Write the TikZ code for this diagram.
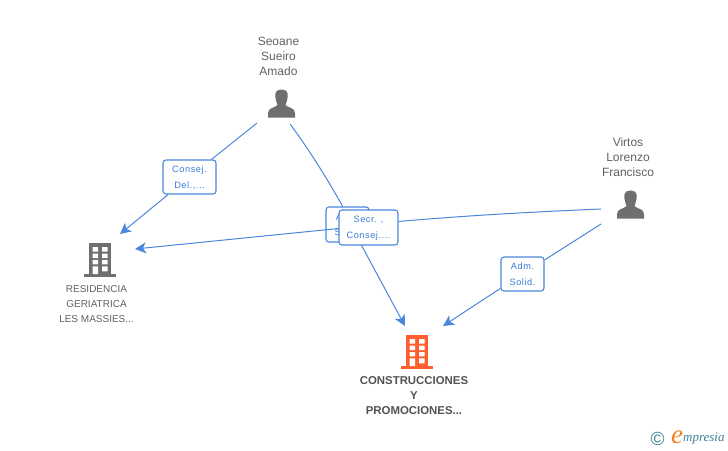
\documentclass[tikz,border=0pt]{standalone}
\usepackage{fontspec}
\setmainfont{Liberation Sans}
\newfontfamily\boxfont[LetterSpace=6]{Liberation Sans}
\newfontfamily\logofont{Liberation Serif}
\usetikzlibrary{arrows.meta}
\definecolor{linkblue}{HTML}{4A86DC}
\definecolor{boxtext}{HTML}{3C7CD8}
\definecolor{greyicon}{HTML}{6F6F6F}
\definecolor{orangeicon}{HTML}{FF5F2E}
\definecolor{teallogo}{HTML}{3F7F96}
\definecolor{orangelogo}{HTML}{F58220}
\pgfdeclarelayer{lines}
\pgfsetlayers{lines,main}
\tikzset{
  x=1pt,y=-1pt,
  link/.style={draw=linkblue,line width=1pt},
  arrowed/.style={link,-{Stealth[length=11pt,width=11pt,inset=3pt]}},
  rolebox/.style={draw=linkblue,line width=1.1pt,fill=white,rounded corners=3pt,
    inner sep=0pt,align=center,text=boxtext,text depth=0pt,
    font=\boxfont\fontsize{9.2}{15.5}\selectfont},
  personlabel/.style={align=center,text=black!62,inner sep=0pt,
    font=\fontsize{12}{15}\selectfont},
  firmlabel/.style={align=center,text=black!62,inner sep=0pt,
    font=\fontsize{10}{15}\selectfont},
  mainlabel/.style={align=center,text=black!68,inner sep=0pt,
    font=\bfseries\fontsize{11.4}{15}\selectfont},
  person/.pic={
    \fill[greyicon] (281.5,89.5) .. controls (276,89.5) and (274.5,93) .. (275.5,98)
      .. controls (276,101.5) and (277,103) .. (277.5,105)
      .. controls (275,108) and (268,107.5) .. (268,113) -- (268,117.5) -- (295,117.5) -- (295,113)
      .. controls (295,107.5) and (288,108) .. (285.5,105)
      .. controls (286,103) and (287,101.5) .. (287.5,98)
      .. controls (288.5,93) and (287,89.5) .. (281.5,89.5) -- cycle;
  },
  pics/building/.style={code={
    \fill[#1] (406,335) rectangle (428,367);
    \fill[#1] (401,366) rectangle (433,369);
    \fill[white] (409.5,339) rectangle (415,343.5)
      (419,339) rectangle (424.7,343.5)
      (409.5,345.7) rectangle (415,350)
      (419,345.7) rectangle (424.7,350)
      (409.5,352) rectangle (415,356.3)
      (419,352) rectangle (424.7,356.3)
      (409.5,358.3) rectangle (415,366)
      (419,358.3) rectangle (424.7,363.3);
  }}
}
\begin{document}
\begin{tikzpicture}
\useasboundingbox (0,0) rectangle (728,450);

\pic at (0,0) {person};
\pic at (349,101) {person};
\pic at (-317,-92) {building=greyicon};
\pic at (0,0) {building=orangeicon};

\node[personlabel] (seoane) at (278.5,56) {Seoane\\Sueiro\\Amado};
\node[personlabel] (virtos) at (628,157) {Virtos\\Lorenzo\\Francisco};
\node[firmlabel] (residencia) at (96.5,304) {RESIDENCIA\\GERIATRICA\\LES MASSIES...};
\node[mainlabel] (construcciones) at (414,396) {CONSTRUCCIONES\\Y\\PROMOCIONES...};

\coordinate (seoaneL) at (257,123);
\coordinate (seoaneR) at (290,124);
\coordinate (virtosU) at (601,209);
\coordinate (virtosD) at (601,224);
\coordinate (resTop) at (120,234);
\coordinate (resRight) at (135,249);
\coordinate (conLeft) at (405,326);
\coordinate (conRight) at (443,326);

\node[rolebox,minimum width=53pt,minimum height=34pt] (consej) at (189.5,177) {Consej.\\Del.,...};
\node[rolebox,minimum width=43pt,minimum height=35pt] (adm) at (347.5,224.5) {Adm.\\Solid.};
\node[rolebox,minimum width=59pt,minimum height=35pt] (secr) at (368.5,227.5) {Secr. ,\\Consej....};
\node[rolebox,minimum width=43pt,minimum height=34pt] (admb) at (522.5,274) {Adm.\\Solid.};

\begin{pgfonlayer}{lines}
\draw[link] (seoaneL) -- (consej);
\draw[arrowed] (consej) -- (resTop);
\draw[link] (seoaneR) .. controls (308,148) and (328,180) .. (adm.north -| 342.7,0);
\draw[arrowed] (adm.south -| 360,0) -- (conLeft);
\draw[link] (virtosU) .. controls (530,212) and (460,216) .. (secr.east |- 0,221.5);
\draw[link] (virtosD) -- (admb);
\draw[arrowed] (admb) -- (conRight);
\end{pgfonlayer}
\draw[arrowed] (secr.west |- 0,228.5) -- (resRight);

\node[text=teallogo,inner sep=0pt,font=\fontsize{19}{19}\selectfont] (copy) at (657.5,438.5) {©};
\node[text=orangelogo,inner sep=0pt,font=\logofont\itshape\fontsize{27}{27}\selectfont] (logoe) at (677,437) {e};
\node[text=teallogo,inner sep=0pt,anchor=west,font=\logofont\itshape\fontsize{13}{13}\selectfont] (logotext) at (683,439) {mpresia};
\end{tikzpicture}
\end{document}
